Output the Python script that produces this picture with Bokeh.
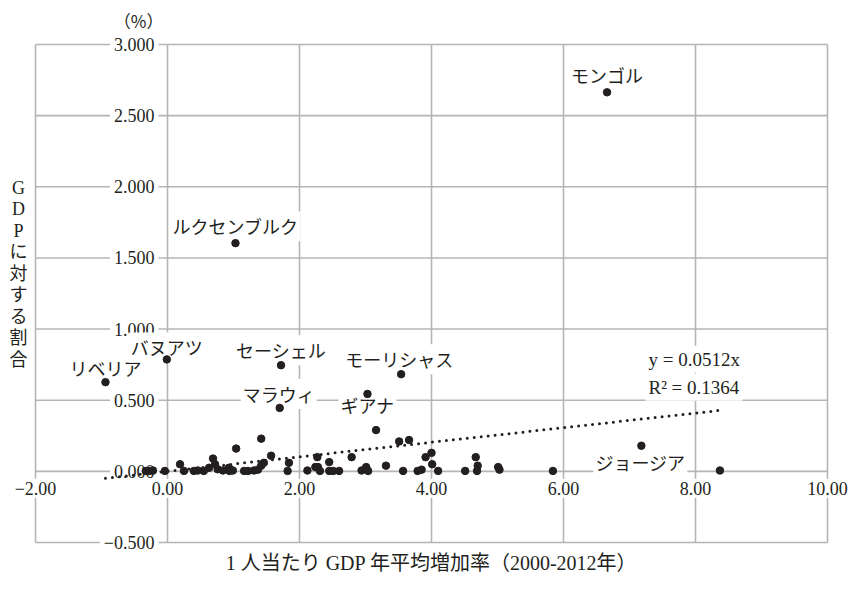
from bokeh.plotting import figure
from bokeh.models import Range1d
from bokeh.embed import file_html
from bokeh.resources import INLINE
from bokeh.core.properties import value

# ---------------- data ----------------
# named countries: x = GDP per-capita growth (2000-2012, %), y = share of GDP (%)
named_countries = ["モンゴル", "ルクセンブルク", "リベリア", "バヌアツ", "セーシェル",
                   "マラウィ", "モーリシャス", "ギアナ", "ジョージア"]
named_growth = [6.66, 1.03, -0.94, -0.01, 1.72, 1.70, 3.54, 3.03, 7.18]
named_share = [2.664, 1.604, 0.627, 0.787, 0.746, 0.446, 0.683, 0.544, 0.180]

other_growth = [-0.33, -0.27, -0.22, -0.04, 0.19, 0.25, 0.40, 0.46, 0.55, 0.63,
                0.69, 0.72, 0.76, 0.84, 0.93, 0.94, 0.99, 1.04, 1.16, 1.22,
                1.31, 1.37, 1.42, 1.42, 1.46, 1.57, 1.84, 1.82, 2.12, 2.24,
                2.28, 2.27, 2.31, 2.45, 2.45, 2.51, 2.60, 2.79, 2.94, 3.01,
                3.04, 3.16, 3.31, 3.51, 3.66, 3.57, 3.79, 3.85, 3.91, 4.00,
                4.01, 4.10, 4.51, 4.67, 4.70, 4.69, 5.01, 5.03, 5.84, 8.37]
other_share = [0.003, 0.003, 0.006, 0.003, 0.050, 0.003, 0.003, 0.006, 0.003, 0.025,
               0.090, 0.050, 0.015, 0.006, 0.025, 0.003, 0.006, 0.160, 0.003, 0.003,
               0.006, 0.012, 0.040, 0.230, 0.060, 0.110, 0.060, 0.003, 0.006, 0.030,
               0.030, 0.100, 0.003, 0.065, 0.003, 0.003, 0.003, 0.100, 0.006, 0.030,
               0.003, 0.290, 0.040, 0.210, 0.220, 0.003, 0.003, 0.012, 0.100, 0.130,
               0.050, 0.003, 0.003, 0.100, 0.040, 0.003, 0.030, 0.012, 0.003, 0.006]

trend_slope = 0.0512
trend_r2 = 0.1364

x_ticks = [-2, 0, 2, 4, 6, 8, 10]
x_tick_labels = ["−2.00", "0.00", "2.00", "4.00", "6.00", "8.00", "10.00"]
y_ticks = [-0.5, 0.0, 0.5, 1.0, 1.5, 2.0, 2.5, 3.0]
y_tick_labels = ["−0.500", "0.000", "0.500", "1.000", "1.500", "2.000", "2.500", "3.000"]

x_title = "1 人当たり GDP 年平均増加率（2000-2012年）"
y_title = "GDPに対する割合"
y_unit = "（%）"

# label placement (screen-pixel offsets, styling only)
label_dx = [0, 0, 0, 0, 0, -1, -2, 0, -1]
label_dy = [-17, -17, -14, -12, -15, -14, -15, 11, 16]

# ---------------- layout ----------------
W, H = 852, 579
LEFT, RIGHT = 35, 827   # canvas px of x = -2 and x = 10
TOP, BOTTOM = 44, 542   # canvas px of y = 3 and y = -0.5
PX_X = (RIGHT - LEFT) / (x_ticks[-1] - x_ticks[0])
PX_Y = (BOTTOM - TOP) / (y_ticks[-1] - y_ticks[0])
xr0 = x_ticks[0] - LEFT / PX_X
xr1 = xr0 + W / PX_X
yr1 = y_ticks[-1] + TOP / PX_Y
yr0 = yr1 - H / PX_Y

p = figure(width=W, height=H, x_range=Range1d(xr0, xr1), y_range=Range1d(yr0, yr1),
           output_backend="svg", toolbar_location=None,
           x_axis_location=None, y_axis_location=None, min_border=0,
           outline_line_color=None, background_fill_color="white",
           border_fill_color="white")
p.grid.visible = False

GRID = "#b5b5b5"
INK = "#231f20"
SERIF = value("Liberation Serif, Noto Sans CJK JP")
JP = value("Noto Sans CJK JP")

# grid lines (also form the frame box)
n_x, n_y = len(x_ticks), len(y_ticks)
p.segment(x0=x_ticks, y0=[y_ticks[0]] * n_x, x1=x_ticks, y1=[y_ticks[-1]] * n_x,
          line_color=GRID, line_width=1.6)
p.segment(x0=[x_ticks[0]] * n_y, y0=y_ticks, x1=[x_ticks[-1]] * n_y, y1=y_ticks,
          line_color=GRID, line_width=1.6)

# y tick labels, sitting on the x = 0 line
p.text(x=[0] * n_y, y=y_ticks, text=y_tick_labels, text_align="right",
       text_baseline="middle", x_offset=-9, text_font=SERIF, text_font_size="18px",
       text_color=INK, background_fill_color="white", padding=4)
# x tick labels, below the y = 0 line
p.text(x=x_ticks, y=[0] * n_x, text=x_tick_labels, text_align="center",
       text_baseline="middle", y_offset=17, text_font=SERIF, text_font_size="18px",
       text_color=INK, background_fill_color="white", padding=3)

# unit label
p.text(x=[0], y=[y_ticks[-1]], text=[y_unit], text_align="right", text_baseline="middle",
       x_offset=-4, y_offset=-24, text_font=JP, text_font_size="17px", text_color=INK)

# y title, stacked characters
chars = list(y_title)
p.text(x=[x_ticks[0]] * len(chars), y=[y_ticks[-1]] * len(chars), text=chars,
       text_align="center", text_baseline="middle", x_offset=-17,
       y_offset=[143 + 21.5 * i for i in range(len(chars))],
       text_font=SERIF, text_font_size="18px", text_color=INK)

# x title
p.text(x=[4], y=[y_ticks[0]], text=[x_title], text_align="center", text_baseline="middle",
       y_offset=20, text_font=SERIF, text_font_size="20px", text_color=INK)

# country labels
p.text(x=named_growth, y=named_share, text=named_countries, text_align="center",
       text_baseline="middle", x_offset=label_dx, y_offset=label_dy,
       text_font=JP, text_font_size="18px", text_color=INK,
       background_fill_color="white", padding=2)

# trend line through origin
all_growth = named_growth + other_growth
all_share = named_share + other_share
tx = [min(all_growth), max(all_growth)]
ty = [trend_slope * v for v in tx]
p.line(tx, ty, line_color=INK, line_width=3, line_dash="0 7", line_cap="round")

# points
p.scatter(all_growth, all_share, size=7.5, fill_color=INK, line_color=INK)

# equation
eq_texts = [f"y = {trend_slope}x", f"R² = {trend_r2}"]
p.text(x=[8, 8], y=[0.5, 0.5], text=eq_texts, text_align="left", text_baseline="middle",
       x_offset=-50, y_offset=[-41, -13], text_font=SERIF, text_font_size="19px",
       text_color=INK, background_fill_color="white", padding=3)

open("out.html", "w").write(file_html(p, INLINE))
